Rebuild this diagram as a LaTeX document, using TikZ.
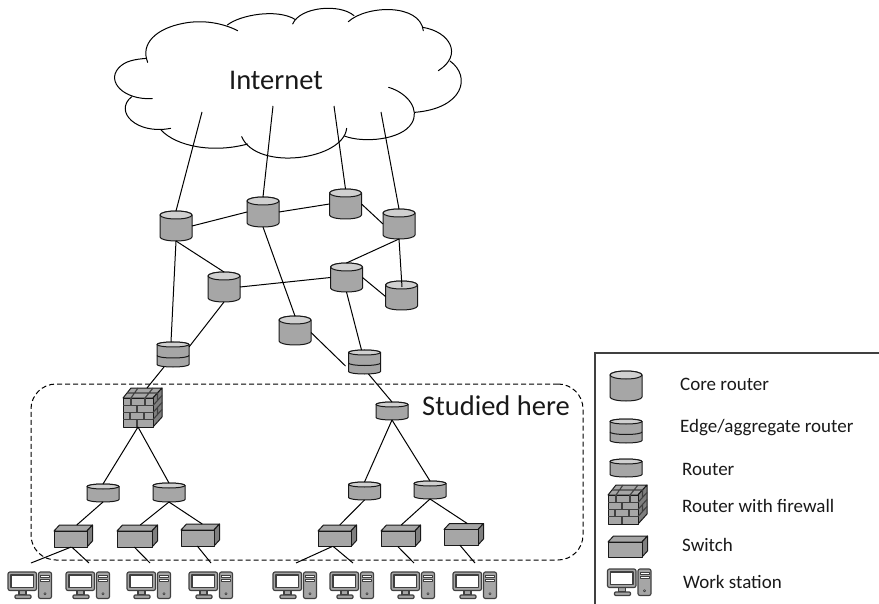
\documentclass[tikz,border=0pt]{standalone}
\usepackage{fontspec}
\setmainfont{Carlito}
\definecolor{devgray}{HTML}{A6A6A6}
\definecolor{devlight}{HTML}{D0D0D0}
\definecolor{devdark}{HTML}{7F7F7F}
\definecolor{brick}{HTML}{404040}
\tikzset{
  x=1pt,y=-1pt,
  devbox/.style={rectangle,inner sep=0pt,outer sep=0pt,draw=none},
  devline/.style={draw=black!90,line width=1pt,line join=round},
  wire/.style={draw=black,line width=1pt},
  brickline/.style={draw=brick,line width=1.1pt},
  wsline/.style={draw=brick,line width=1.15pt,line join=round},
  cloudline/.style={draw=black,line width=1pt,line cap=round},
  bigtext/.style={inner sep=0pt,font=\fontsize{28.5}{32}\selectfont,text=black!90},
  legendtext/.style={inner sep=0pt,anchor=west,font=\fontsize{19}{22}\selectfont,text=black!90},
}
% name, cx, top, bottom, cap radius, band flag
\newcommand{\DevCyl}[6][0]{%
  \node[devbox,minimum width=32pt,minimum height={#5-#4}] (#2) at (#3,{(#4+#5)/2}) {};
  \draw[devline,fill=devgray] ({#3-16},{#4+#6}) -- ({#3-16},{#5-#6})
    arc[start angle=180,end angle=360,x radius=16pt,y radius=#6 pt]
    -- ({#3+16},{#4+#6})
    arc[start angle=0,end angle=180,x radius=16pt,y radius=#6 pt] -- cycle;
  \draw[devline,fill=devlight] (#3,{#4+#6}) ellipse[x radius=16pt,y radius=#6 pt];
  \ifnum#1=1
    \draw[devline] ({#3-16},{(#4+#5)/2+1}) arc[start angle=180,end angle=360,x radius=16pt,y radius=#6 pt];
  \fi
}
% name, left, top (box 39 x 39)
\newcommand{\DevFw}[3]{%
  \node[devbox,minimum width=39pt,minimum height=39pt,anchor=north west] (#1) at (#2,#3) {};
  \begin{scope}[shift={(#2,#3)}]
    \draw[devline,fill=devgray] (0,10) -- (8,0) -- (39,0) -- (30,10) -- cycle;
    \draw[devline,fill=devdark] (30,10) -- (39,0) -- (39,29) -- (30,39) -- cycle;
    \draw[devline,fill=devgray] (0,10) rectangle (30,39);
    \draw[brickline] (0,17.5) -- (30,17.5) (0,24.5) -- (30,24.5) (0,31.5) -- (30,31.5);
    \draw[brickline] (8,10) -- (8,17.5) (22,10) -- (22,17.5) (14,17.5) -- (14,24.5)
      (7,24.5) -- (7,31.5) (21,24.5) -- (21,31.5) (14,31.5) -- (14,39);
    \draw[brickline] (4,5) -- (35,5) (8,10) -- (15,0) (22,10) -- (30,0);
    \draw[brickline] (30,17.5) -- (39,7.5) (30,24.5) -- (39,14.5) (30,31.5) -- (39,21.5)
      (34.5,5) -- (34.5,12.5) (34.5,19.5) -- (34.5,26.5) (34.5,33) -- (34.5,34);
  \end{scope}
}
% name, left, top, front width, total height
\newcommand{\DevSw}[5]{%
  \node[devbox,minimum width={#4+5.5},minimum height=#5,anchor=north west] (#1) at (#2,#3) {};
  \begin{scope}[shift={(#2,#3)}]
    \draw[devline,fill=devgray] (0,6) -- (5.5,0) -- ({#4+5.5},0) -- (#4,6) -- cycle;
    \draw[devline,fill=devdark] (#4,6) -- ({#4+5.5},0) -- ({#4+5.5},{#5-6}) -- (#4,#5) -- cycle;
    \draw[devline,fill=devgray] (0,6) rectangle (#4,#5);
  \end{scope}
}
% name, left, top (box 44 x 27)
\newcommand{\DevWs}[3]{%
  \node[devbox,minimum width=44pt,minimum height=27pt,anchor=north west] (#1) at (#2,#3) {};
  \begin{scope}[shift={(#2,#3)}]
    \draw[wsline,fill=devgray] (11,18) rectangle (18,23);
    \draw[wsline,fill=devgray,rounded corners=1pt] (7,23) rectangle (23,26.5);
    \draw[wsline,fill=devgray,rounded corners=2pt] (0,0) rectangle (28.5,18.5);
    \draw[wsline,fill=white] (3,3) rectangle (25.5,15.5);
    \draw[wsline,fill=devgray,rounded corners=2pt] (30.5,0) rectangle (43.5,26.5);
    \draw[wsline,fill=white,line width=0.7pt] (32.5,3) rectangle (41.5,5.2);
    \draw[wsline,fill=white,line width=0.7pt] (32.5,7) rectangle (41.5,9.5);
    \draw[wsline,fill=white,line width=0.7pt] (37,21.7) circle[radius=1.1pt];
  \end{scope}
}
\begin{document}
\begin{tikzpicture}
\useasboundingbox (0,0) rectangle (879,604);
% cloud
\begin{scope}[xshift=100pt,x=0.33333pt,y=-0.33333pt]
  \draw[cloudline] (143,187) .. controls (120,130) and (170,85) .. (250,70) .. controls (310,58) and (370,70) .. (413,92);
  \draw[cloudline] (382,75) .. controls (420,45) and (530,25) .. (585,58);
  \draw[cloudline] (578,72) .. controls (600,20) and (720,10) .. (762,47);
  \draw[cloudline] (745,65) .. controls (800,15) and (960,10) .. (970,92);
  \draw[cloudline] (968,82) .. controls (1050,95) and (1090,165) .. (1015,212);
  \draw[cloudline] (1050,183) .. controls (1115,230) and (1090,325) .. (945,337);
  \draw[cloudline] (866,262) .. controls (925,280) and (960,330) .. (935,370) .. controls (905,420) and (790,430) .. (733,408);
  \draw[cloudline] (740,385) .. controls (730,480) and (470,515) .. (425,410);
  \draw[cloudline] (443,432) .. controls (340,460) and (230,440) .. (183,390);
  \draw[cloudline] (212,385) .. controls (110,405) and (40,335) .. (95,290);
  \draw[cloudline] (157,296) .. controls (70,300) and (20,245) .. (55,205) .. controls (75,182) and (105,178) .. (140,175);
\end{scope}
\node[bigtext] (internet) at (276,80) {Internet};
% studied region
\node[draw=black,line width=1pt,dash pattern=on 5pt off 3pt,rounded corners=25pt,minimum width=552pt,minimum height=176pt,inner sep=0pt] (region) at (307,472) {};
\node[bigtext,anchor=west] (studied) at (422,406) {Studied here};
% core routers
\DevCyl{ca}{176}{211}{241}{4}
\DevCyl{cb}{263}{197}{227}{4}
\DevCyl{cc}{345.5}{189}{219}{4}
\DevCyl{cd}{399}{209}{239}{4}
\DevCyl{ce}{224}{272}{302}{4}
\DevCyl{cf}{346.5}{263}{292}{4}
\DevCyl{cg}{401.5}{281}{310}{4}
\DevCyl{ch}{295}{316}{345}{4}
% edge routers
\DevCyl[1]{ei}{173}{342}{367}{2.5}
\DevCyl[1]{ej}{364.5}{350}{374}{2.5}
% firewall and routers
\DevFw{fw}{123}{388}
\DevCyl{rt}{392}{402}{420}{2.5}
\DevCyl{ra}{103}{484}{502}{2.5}
\DevCyl{rb}{169}{483}{502}{2.5}
\DevCyl{rc}{364.5}{482}{500}{2.5}
\DevCyl{rd}{430}{481}{499}{2.5}
% switches
\DevSw{sa}{54}{525}{33}{22}
\DevSw{sb}{117}{525}{35}{22}
\DevSw{sc}{181}{524}{33}{22}
\DevSw{sd}{318}{525}{33}{21.5}
\DevSw{se}{381}{525}{34}{21.5}
\DevSw{sf}{444}{523.5}{34}{21.5}
% work stations
\DevWs{wa}{8}{572}
\DevWs{wb}{66}{572}
\DevWs{wc}{127}{572}
\DevWs{wd}{189}{572}
\DevWs{we}{273}{572}
\DevWs{wf}{330}{572}
\DevWs{wg}{391}{572}
\DevWs{wh}{453}{572}
% free ends
\coordinate (ia) at (202,112);
\coordinate (ib) at (273,106);
\coordinate (ic) at (334,106);
\coordinate (id) at (381,112);
\coordinate (fa) at (31,563);
\coordinate (fb) at (89,563);
\coordinate (fc) at (150,563);
\coordinate (fd) at (211,563);
\coordinate (fe) at (296,563);
\coordinate (ff) at (353,563);
\coordinate (fg) at (414,563);
\coordinate (fh) at (475,563);
% connectors
\draw[wire] (ia) -- (ca.north);
\draw[wire] (ib) -- (cb.north);
\draw[wire] (ic) -- (cc.north);
\draw[wire] (id) -- (cd.north);
\draw[wire] (ca.east) -- (cb.west);
\draw[wire] (cb.east) -- (cc.west);
\draw[wire] (cc.east) -- (cd.west);
\draw[wire] (ca.south) -- (ce.north);
\draw[wire] (ca.south) -- ([xshift=-2pt]ei.north);
\draw[wire] (ce.south) -- ([yshift=-5pt]ei.north east);
\draw[wire] (ce.east) -- (cf.west);
\draw[wire] (cb.south) -- (ch.north);
\draw[wire] ([yshift=-2pt]ch.east) -- ([shift={(-3pt,-4pt)}]ej.west);
\draw[wire] (cf.south) -- ([xshift=-3pt]ej.north);
\draw[wire] (cd.south) -- (cf.north);
\draw[wire] (cd.south) -- ([shift={(0.5pt,-6pt)}]cg.north);
\draw[wire] (cf.east) -- ([yshift=-1pt]cg.west);
\draw[wire] ([xshift=-9pt]ei.south) -- ([xshift=4.5pt]fw.north);
\draw[wire] ([xshift=4pt]ej.south) -- (rt.north);
\draw[wire] ([xshift=-4.5pt]fw.south) -- (ra.north);
\draw[wire] ([xshift=-4.5pt]fw.south) -- (rb.north);
\draw[wire] (rt.south) -- (rc.north);
\draw[wire] (rt.south) -- (rd.north);
\draw[wire] (ra.south) -- ([xshift=3.5pt]sa.north);
\draw[wire] (rb.south) -- ([xshift=3pt]sb.north);
\draw[wire] (rb.south) -- ([xshift=2pt]sc.north);
\draw[wire] (rc.south) -- ([xshift=2.5pt]sd.north);
\draw[wire] (rd.south) -- ([xshift=0.5pt]se.north);
\draw[wire] (rd.south) -- ([xshift=3.5pt]sf.north);
\draw[wire] ([xshift=-2pt]sa.south) -- (fa);
\draw[wire] ([xshift=-1.5pt]sa.south) -- (fb);
\draw[wire] ([xshift=-3pt]sb.south) -- (fc);
\draw[wire] ([xshift=-3pt]sc.south) -- (fd);
\draw[wire] ([xshift=-5pt]sd.south) -- (fe);
\draw[wire] ([xshift=-4pt]sd.south) -- (ff);
\draw[wire] ([xshift=-3pt]se.south) -- (fg);
\draw[wire] ([xshift=-4pt]sf.south) -- (fh);
% legend
\draw[draw=brick,line width=1.1pt] (595,604) -- (595,353) -- (879,353);
\DevCyl{lcore}{626}{371}{401}{4}
\DevCyl[1]{ledge}{626}{419}{443}{2.5}
\DevCyl{lrouter}{626}{459}{477}{2.5}
\DevFw{lfw}{608}{485}
\DevSw{lsw}{608}{536}{34}{21}
\DevWs{lws}{607.5}{569}
\node[legendtext] (tcore) at (680,384) {Core router};
\node[legendtext] (tedge) at (680,428) {Edge/aggregate router};
\node[legendtext] (trouter) at (682,469) {Router};
\node[legendtext] (tfw) at (682,506) {Router with firewall};
\node[legendtext] (tsw) at (682,545) {Switch};
\node[legendtext] (tws) at (683,582) {Work station};
\end{tikzpicture}
\end{document}
